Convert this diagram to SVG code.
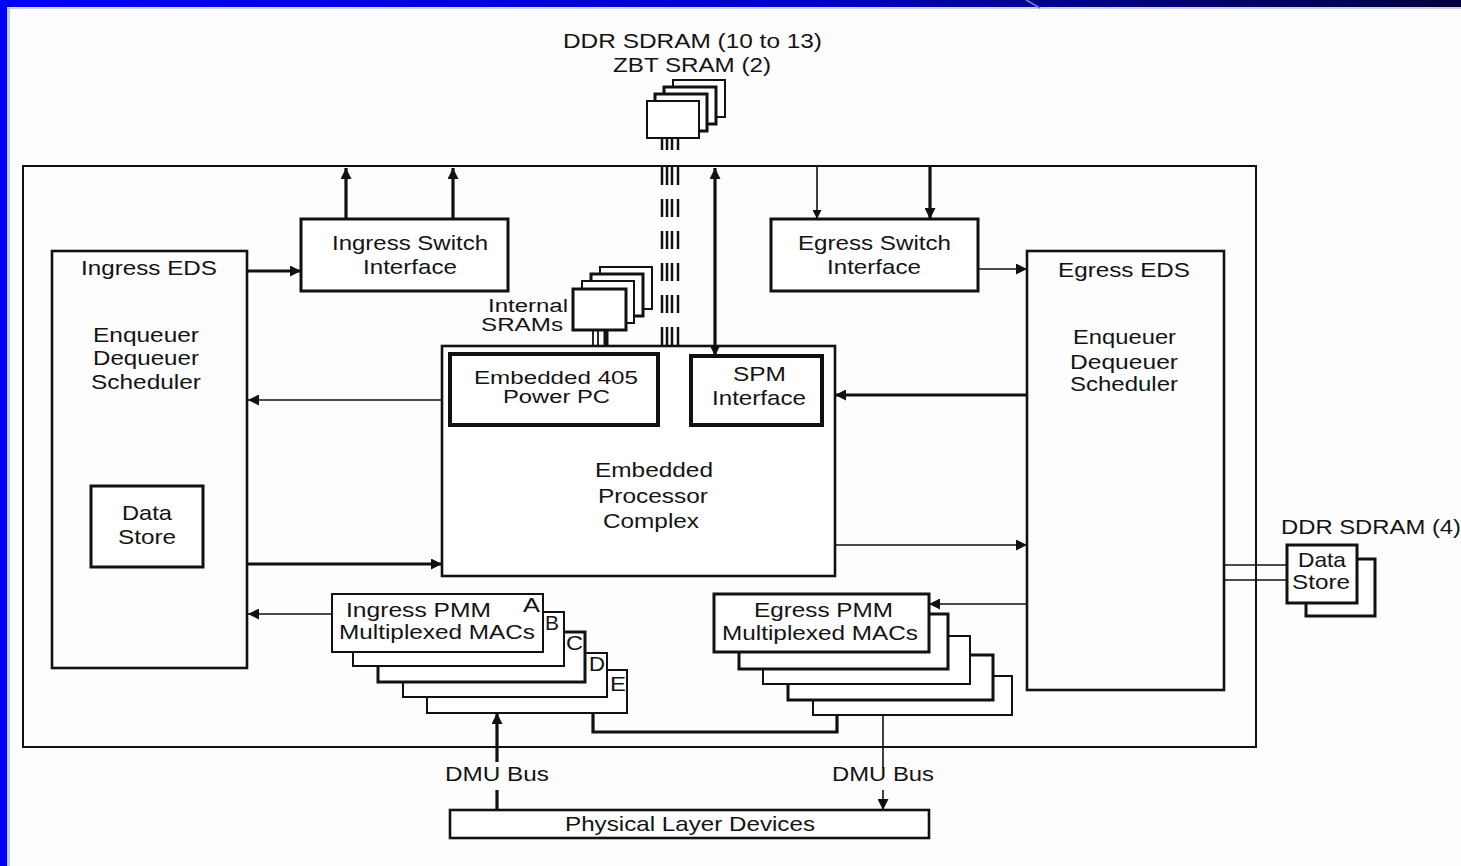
<svg xmlns="http://www.w3.org/2000/svg" width="1461" height="866" viewBox="0 0 1461 866">
<defs>
<linearGradient id="topbar" x1="0" y1="0" x2="1" y2="0">
<stop offset="0" stop-color="#0000f0"/>
<stop offset="0.55" stop-color="#0000c8"/>
<stop offset="1" stop-color="#00003c"/>
</linearGradient>
<marker id="ah" viewBox="0 0 10 10" refX="10" refY="5" markerWidth="11" markerHeight="11" markerUnits="userSpaceOnUse" orient="auto-start-reverse">
<path d="M0,0 L10,5 L0,10 z" fill="#111"/>
</marker>
<marker id="ahs" viewBox="0 0 10 10" refX="10" refY="5" markerWidth="9" markerHeight="9" markerUnits="userSpaceOnUse" orient="auto-start-reverse">
<path d="M0,0 L10,5 L0,10 z" fill="#111"/>
</marker>
</defs>
<style>
text{font-family:"Liberation Sans",Arial,sans-serif;font-size:21px;fill:#141414}
.sm{font-size:18px}
.b{fill:#fff;stroke:#111;stroke-width:2}
.bt{fill:#fff;stroke:#111;stroke-width:3}
.bk{fill:#fff;stroke:#111;stroke-width:4}
.ln{fill:none;stroke:#111;stroke-width:1.6}
.lt{fill:none;stroke:#111;stroke-width:3.2}
</style>
<rect x="0" y="0" width="1461" height="866" fill="#fdfdfd"/>
<rect x="0" y="0" width="1461" height="7" fill="url(#topbar)"/>
<rect x="7" y="7" width="1454" height="2" fill="#c8d0e6"/>
<rect x="0" y="0" width="7" height="866" fill="#0000f6"/>
<rect x="7" y="7" width="3" height="859" fill="#c0c8e2"/>
<line x1="1026" y1="0" x2="1040" y2="8" stroke="#5a78c8" stroke-width="2"/>

<g id="chip">
<rect x="23" y="166" width="1233" height="581" fill="none" stroke="#111" stroke-width="2"/>
</g>

<g id="top-memory">
<rect x="673" y="80" width="52" height="37" class="b"/>
<rect x="664" y="87" width="52" height="37" class="bt"/>
<rect x="655" y="94" width="52" height="37" class="bt"/>
<rect x="647" y="101" width="52" height="37" class="b"/>
<text x="563" y="48" textLength="259" lengthAdjust="spacingAndGlyphs">DDR SDRAM (10 to 13)</text>
<text x="613" y="72" textLength="158" lengthAdjust="spacingAndGlyphs">ZBT SRAM (2)</text>
</g>

<g id="ingress-eds">
<rect x="52" y="251" width="195" height="417" fill="none" stroke="#111" stroke-width="2.6"/>
<text x="81" y="275" textLength="136" lengthAdjust="spacingAndGlyphs">Ingress EDS</text>
<text x="93" y="342" textLength="106" lengthAdjust="spacingAndGlyphs">Enqueuer</text>
<text x="93" y="365" textLength="106" lengthAdjust="spacingAndGlyphs">Dequeuer</text>
<text x="91" y="389" textLength="110" lengthAdjust="spacingAndGlyphs">Scheduler</text>
</g>
<g id="ingress-data-store">
<rect x="91" y="486" width="112" height="81" class="bt"/>
<text x="122" y="520" textLength="50" lengthAdjust="spacingAndGlyphs">Data</text>
<text x="118" y="544" textLength="58" lengthAdjust="spacingAndGlyphs">Store</text>
</g>

<g id="ingress-switch">
<rect x="301" y="219" width="207" height="72" class="bt"/>
<text x="332" y="250" textLength="156" lengthAdjust="spacingAndGlyphs">Ingress Switch</text>
<text x="363" y="274" textLength="94" lengthAdjust="spacingAndGlyphs">Interface</text>
</g>

<g id="egress-switch">
<rect x="771" y="219" width="207" height="72" class="bt"/>
<text x="798" y="250" textLength="153" lengthAdjust="spacingAndGlyphs">Egress Switch</text>
<text x="827" y="274" textLength="94" lengthAdjust="spacingAndGlyphs">Interface</text>
</g>

<g id="egress-eds">
<rect x="1027" y="251" width="197" height="439" fill="none" stroke="#111" stroke-width="2.6"/>
<text x="1058" y="277" textLength="132" lengthAdjust="spacingAndGlyphs">Egress EDS</text>
<text x="1073" y="344" textLength="103" lengthAdjust="spacingAndGlyphs">Enqueuer</text>
<text x="1070" y="369" textLength="108" lengthAdjust="spacingAndGlyphs">Dequeuer</text>
<text x="1070" y="391" textLength="108" lengthAdjust="spacingAndGlyphs">Scheduler</text>
</g>

<g id="internal-srams">
<rect x="600" y="267" width="52" height="42" class="b"/>
<rect x="591" y="274" width="52" height="42" class="bt"/>
<rect x="582" y="281" width="52" height="42" class="b"/>
<rect x="573" y="289" width="53" height="41" class="bt"/>
<text x="488" y="312" class="sm" textLength="80" lengthAdjust="spacingAndGlyphs">Internal</text>
<text x="481" y="331" class="sm" textLength="82" lengthAdjust="spacingAndGlyphs">SRAMs</text>
</g>

<g id="embedded-processor-complex">
<rect x="442" y="346" width="393" height="230" fill="#fff" stroke="#111" stroke-width="2.6"/>
<text x="595" y="477" textLength="118" lengthAdjust="spacingAndGlyphs">Embedded</text>
<text x="598" y="503" textLength="110" lengthAdjust="spacingAndGlyphs">Processor</text>
<text x="603" y="528" textLength="96" lengthAdjust="spacingAndGlyphs">Complex</text>
</g>
<g id="power-pc">
<rect x="450" y="354" width="208" height="71" class="bk"/>
<text x="474" y="384" class="sm" textLength="164" lengthAdjust="spacingAndGlyphs">Embedded 405</text>
<text x="503" y="403" class="sm" textLength="107" lengthAdjust="spacingAndGlyphs">Power PC</text>
</g>
<g id="spm-interface">
<rect x="691" y="356" width="131" height="69" class="bk"/>
<text x="733" y="381" textLength="53" lengthAdjust="spacingAndGlyphs">SPM</text>
<text x="712" y="405" textLength="94" lengthAdjust="spacingAndGlyphs">Interface</text>
</g>

<g id="ingress-pmm">
<rect x="427" y="670" width="200" height="43" class="b"/>
<rect x="403" y="653" width="204" height="44" class="b"/>
<rect x="378" y="632" width="207" height="50" class="bt"/>
<rect x="353" y="612" width="211" height="54" class="b"/>
<rect x="332" y="594" width="211" height="58" class="b" stroke-width="2.5"/>
<text x="346" y="617" textLength="145" lengthAdjust="spacingAndGlyphs">Ingress PMM</text>
<text x="339" y="639" textLength="196" lengthAdjust="spacingAndGlyphs">Multiplexed MACs</text>
<text x="523" y="612" textLength="17" lengthAdjust="spacingAndGlyphs">A</text>
<text x="545" y="630" textLength="14" lengthAdjust="spacingAndGlyphs">B</text>
<text x="566" y="650" textLength="17" lengthAdjust="spacingAndGlyphs">C</text>
<text x="589" y="671" textLength="16" lengthAdjust="spacingAndGlyphs">D</text>
<text x="610" y="691" textLength="16" lengthAdjust="spacingAndGlyphs">E</text>
</g>

<g id="egress-pmm">
<rect x="813" y="676" width="199" height="39" class="b"/>
<rect x="788" y="655" width="205" height="45" class="bt"/>
<rect x="763" y="636" width="207" height="48" class="b"/>
<rect x="739" y="614" width="209" height="55" class="bt"/>
<rect x="714" y="594" width="215" height="58" class="bt"/>
<text x="754" y="617" textLength="139" lengthAdjust="spacingAndGlyphs">Egress PMM</text>
<text x="722" y="640" textLength="196" lengthAdjust="spacingAndGlyphs">Multiplexed MACs</text>
</g>

<g id="egress-data-store">
<rect x="1306" y="559" width="69" height="57" class="bt"/>
<rect x="1287" y="545" width="70" height="58" class="bt"/>
<text x="1298" y="567" textLength="48" lengthAdjust="spacingAndGlyphs">Data</text>
<text x="1292" y="589" textLength="58" lengthAdjust="spacingAndGlyphs">Store</text>
<text x="1281" y="534" textLength="180" lengthAdjust="spacingAndGlyphs">DDR SDRAM (4)</text>
</g>

<g id="physical-layer-devices">
<rect x="450" y="810" width="479" height="28" fill="#fff" stroke="#111" stroke-width="2.6"/>
<text x="565" y="831" textLength="250" lengthAdjust="spacingAndGlyphs">Physical Layer Devices</text>
</g>

<g id="connectors">
<line x1="346" y1="219" x2="346" y2="168" class="lt" marker-end="url(#ah)"/>
<line x1="453" y1="219" x2="453" y2="168" class="lt" marker-end="url(#ah)"/>
<line x1="817" y1="167" x2="817" y2="219" class="ln" marker-end="url(#ahs)"/>
<line x1="930" y1="167" x2="930" y2="219" class="lt" marker-end="url(#ah)"/>
<line x1="247" y1="271" x2="301" y2="271" class="lt" marker-end="url(#ah)"/>
<line x1="978" y1="269" x2="1027" y2="269" class="ln" marker-end="url(#ah)"/>
<line x1="715" y1="356" x2="715" y2="168" class="lt" marker-start="url(#ah)" marker-end="url(#ah)"/>
<line x1="442" y1="400" x2="248" y2="400" class="ln" marker-end="url(#ah)"/>
<line x1="248" y1="564" x2="442" y2="564" class="lt" marker-end="url(#ah)"/>
<line x1="332" y1="614" x2="248" y2="614" class="ln" marker-end="url(#ah)"/>
<line x1="1027" y1="395" x2="835" y2="395" class="lt" marker-end="url(#ah)"/>
<line x1="835" y1="545" x2="1027" y2="545" class="ln" marker-end="url(#ah)"/>
<line x1="1027" y1="604" x2="929" y2="604" class="ln" marker-end="url(#ah)"/>
<path d="M593,713 V732 H837 V715" class="lt"/>
<line x1="497" y1="762" x2="497" y2="713" class="lt" marker-end="url(#ah)"/>
<line x1="497" y1="790" x2="497" y2="810" class="lt"/>
<line x1="883" y1="715" x2="883" y2="768" class="ln"/>
<line x1="883" y1="790" x2="883" y2="810" class="ln" marker-end="url(#ah)"/>
<line x1="1224" y1="565" x2="1287" y2="565" class="ln"/>
<line x1="1224" y1="580" x2="1287" y2="580" class="ln"/>
<g stroke="#111" stroke-width="2.5">
<line x1="662" y1="138" x2="662" y2="150"/>
<line x1="667" y1="138" x2="667" y2="150"/>
<line x1="672" y1="138" x2="672" y2="150"/>
<line x1="678" y1="138" x2="678" y2="150"/>
</g>
<g stroke="#111" stroke-width="2.5" stroke-dasharray="18 14">
<line x1="662" y1="167" x2="662" y2="346"/>
<line x1="667" y1="167" x2="667" y2="346"/>
<line x1="672" y1="167" x2="672" y2="346"/>
<line x1="678" y1="167" x2="678" y2="346"/>
</g>
<g stroke="#111">
<line x1="593" y1="330" x2="593" y2="346" stroke-width="1.8"/>
<line x1="598" y1="330" x2="598" y2="346" stroke-width="1.8"/>
<line x1="606" y1="330" x2="606" y2="346" stroke-width="5"/>
</g>
</g>
<g id="dmu-labels">
<text x="445" y="781" textLength="104" lengthAdjust="spacingAndGlyphs">DMU Bus</text>
<text x="832" y="781" textLength="102" lengthAdjust="spacingAndGlyphs">DMU Bus</text>
</g>
</svg>
